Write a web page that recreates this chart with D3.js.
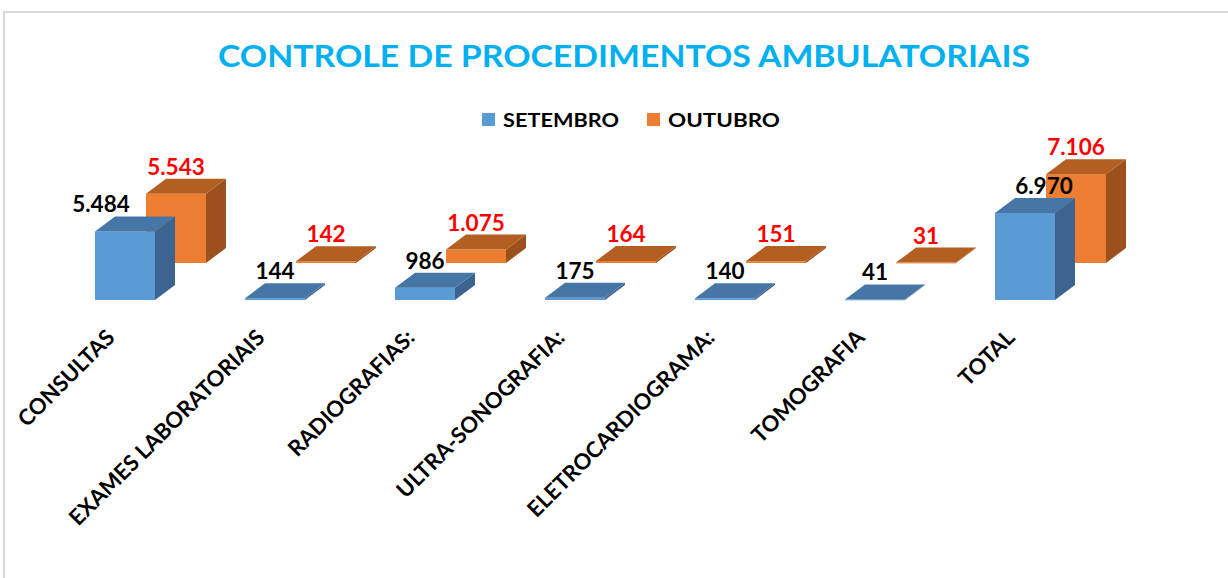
<!DOCTYPE html>
<html>
<head>
<meta charset="utf-8">
<script src="https://cdn.jsdelivr.net/npm/d3@7"></script>
<style>
	body { margin: 0; background: #fff; }
	svg { display: block; font-family: Lato, "Open Sans", sans-serif; }
</style>
</head>
<body>
<div id="chart"></div>
<script>
// Chart data
const categories = [
	"CONSULTAS",
	"EXAMES LABORATORIAIS",
	"RADIOGRAFIAS:",
	"ULTRA-SONOGRAFIA:",
	"ELETROCARDIOGRAMA:",
	"TOMOGRAFIA",
	"TOTAL",
];
const seriesNames = ["SETEMBRO", "OUTUBRO"];
const setembro = [5484, 144, 986, 175, 140, 41, 6970];
const outubro = [5543, 142, 1075, 164, 151, 31, 7106];

const width = 1228;
const height = 578;

// Colors per series: front, top, side
const palette = [
	{ front: "#5b9bd5", top: "#4676a6", side: "#3b6590", label: "#000" },
	{ front: "#ed7d31", top: "#b45f22", side: "#9c511c", label: "#ff0000" },
];

const fmt = d3.format(",");
const ptBR = (v) => fmt(v).replace(/,/g, ".");

const svg = d3
	.select("#chart")
	.append("svg")
	.attr("width", width)
	.attr("height", height);

// Chart frame
svg.append("rect")
	.attr("x", 4)
	.attr("y", 12)
	.attr("width", 1300)
	.attr("height", 700)
	.attr("fill", "none")
	.attr("stroke", "#d9d9d9")
	.attr("stroke-width", 2);

// Title
svg.append("text")
	.attr("x", 624)
	.attr("y", 67)
	.attr("text-anchor", "middle")
	.attr("fill", "#00b0f0")
	.style("font-size", "31px")
	.style("font-weight", "bold")
	.attr("textLength", 812)
	.attr("lengthAdjust", "spacingAndGlyphs")
	.text("CONTROLE DE PROCEDIMENTOS AMBULATORIAIS");

// Legend
const legendX = [482, 647];
const legendW = [116, 112];
seriesNames.forEach((name, i) => {
	const g = svg.append("g").attr("transform", `translate(${legendX[i]},113)`);
	g.append("rect")
		.attr("width", 13)
		.attr("height", 13)
		.attr("fill", palette[i].front);
	g.append("text")
		.attr("x", 21)
		.attr("y", 14)
		.style("font-size", "19.5px")
		.style("font-weight", "bold")
		.attr("fill", "#000")
		.attr("textLength", legendW[i])
		.attr("lengthAdjust", "spacingAndGlyphs")
		.text(name);
});

// Scales
const x = d3.scaleBand().domain(categories).range([50, 1100]);
const h = d3.scaleLinear().domain([0, 8000]).range([0, 100]);

const barW = 60;
const depth = { dx: 20, dy: -15 };
const baseY = 300;
// offset of the back (second) series row
const rowShift = { dx: 51, dy: -37 };

// Small horizontal nudges Excel applied to avoid label overlap
const labelNudge = { CONSULTAS: -24, TOTAL: 19 };

function bar3d(g, x0, y0, hh, colors) {
	const top = y0 - hh;
	const { dx, dy } = depth;
	g.append("polygon")
		.attr("points", [
			[x0 + barW, y0],
			[x0 + barW, top],
			[x0 + barW + dx, top + dy],
			[x0 + barW + dx, y0 + dy],
		].join(" "))
		.attr("fill", colors.side);
	g.append("rect")
		.attr("x", x0)
		.attr("y", top)
		.attr("width", barW)
		.attr("height", Math.max(hh, 0.8))
		.attr("fill", colors.front);
	g.append("polygon")
		.attr("points", [
			[x0, top],
			[x0 + dx, top + dy],
			[x0 + barW + dx, top + dy],
			[x0 + barW, top],
		].join(" "))
		.attr("fill", colors.top);
}

const bars = svg.append("g").attr("class", "bars");
const labels = svg.append("g").attr("class", "labels");
const seriesValues = [setembro, outubro];

// back row first (OUTUBRO), then front row (SETEMBRO)
[1, 0].forEach((s) => {
	categories.forEach((c, i) => {
		const v = seriesValues[s][i];
		const x0 = x(c) + (x.bandwidth() - barW) / 2 + (s === 1 ? rowShift.dx : 0);
		const y0 = baseY + (s === 1 ? rowShift.dy : 0);
		const hh = h(v);
		bar3d(bars.append("g"), x0, y0, hh, palette[s]);

		const nudge = s === 0 ? labelNudge[c] || 0 : 0;
		labels.append("text")
			.attr("x", x0 + barW / 2 + nudge)
			.attr("y", y0 - hh + depth.dy - 4)
			.attr("text-anchor", "middle")
			.attr("fill", palette[s].label)
			.style("font-size", "22.5px")
			.style("font-weight", "bold")
			.text(ptBR(v));
	});
});

// Category labels, rotated
svg.append("g")
	.attr("class", "axis")
	.selectAll("text")
	.data(categories)
	.join("text")
	.attr("transform", (c) => `translate(${x(c) + x.bandwidth() / 2 - 9},339) rotate(-45)`)
	.attr("text-anchor", "end")
	.style("font-size", "22px")
	.style("font-weight", "bold")
	.attr("fill", "#000")
	.text((c) => c);
</script>
</body>
</html>
